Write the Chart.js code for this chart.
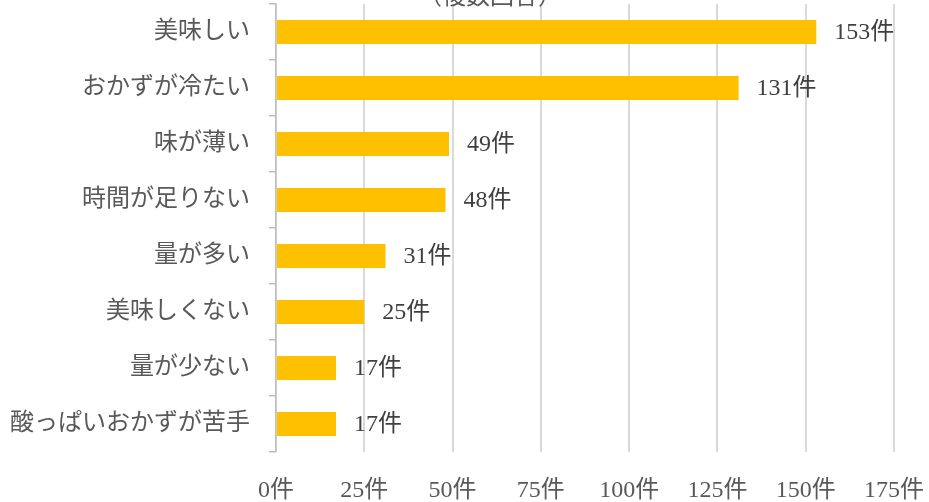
<!DOCTYPE html>
<html><head><meta charset="utf-8">
<script src="https://cdn.jsdelivr.net/npm/chart.js@4/dist/chart.umd.min.js"></script>
<style>html,body{margin:0;padding:0;background:#fff;}#c{display:block;}</style>
</head><body>
<canvas id="c" width="929" height="502"></canvas>
<script>
const categories = ["美味しい","おかずが冷たい","味が薄い","時間が足りない","量が多い","美味しくない","量が少ない","酸っぱいおかずが苦手"];
const counts = [153,131,49,48,31,25,17,17];
const xTicks = [0,25,50,75,100,125,150,175];
const unit = "件";
const titleText = "（複数回答）";

const FONT = '"Liberation Serif", "Noto Sans CJK JP", serif';
const TXT = '#595959';

const labelPlugin = {
  id: 'vals',
  afterDatasetsDraw(chart) {
    const ctx = chart.ctx;
    const meta = chart.getDatasetMeta(0);
    ctx.save();
    ctx.font = '24px ' + FONT;
    ctx.fillStyle = '#404040';
    ctx.textAlign = 'left';
    ctx.textBaseline = 'middle';
    meta.data.forEach((bar, i) => {
      ctx.fillText(counts[i] + unit, bar.x + 18, bar.y + 1);
    });
    ctx.restore();
  },
  afterDraw(chart) {
    const ctx = chart.ctx;
    ctx.save();
    ctx.font = '24px ' + FONT;
    ctx.fillStyle = TXT;
    ctx.textAlign = 'center';
    ctx.textBaseline = 'middle';
    ctx.fillText(titleText, 490, -2);
    ctx.restore();
  }
};

new Chart(document.getElementById('c'), {
  type: 'bar',
  data: {
    labels: categories,
    datasets: [{
      data: counts,
      backgroundColor: '#FFC000',
      barPercentage: 0.43,
      categoryPercentage: 1
    }]
  },
  options: {
    indexAxis: 'y',
    responsive: false,
    animation: false,
    layout: { padding: { top: 4, right: 35, left: 0, bottom: 0 } },
    plugins: { legend: { display: false }, tooltip: { enabled: false }, title: { display: false } },
    scales: {
      x: {
        min: 0, max: 175,
        afterBuildTicks(s) { s.ticks = xTicks.map(v => ({ value: v })); },
        afterFit(s) { s.height = 50; s.paddingLeft = 0; s.paddingRight = 0; },
        grid: { color: '#d9d9d9', lineWidth: 2, drawTicks: false },
        border: { display: false },
        ticks: {
          padding: 24,
          color: TXT,
          font: { family: FONT, size: 24 },
          callback: v => v + unit
        }
      },
      y: {
        afterFit(s) { s.width = 276; s.paddingTop = 0; s.paddingBottom = 0; },
        grid: { drawOnChartArea: false, offset: true, tickLength: 7, color: '#bfbfbf', lineWidth: 1.5 },
        border: { display: true, color: '#bfbfbf', width: 1.5 },
        ticks: {
          padding: 19,
          color: TXT,
          font: { family: FONT, size: 24 }
        }
      }
    }
  },
  plugins: [labelPlugin]
});
</script>
</body></html>
